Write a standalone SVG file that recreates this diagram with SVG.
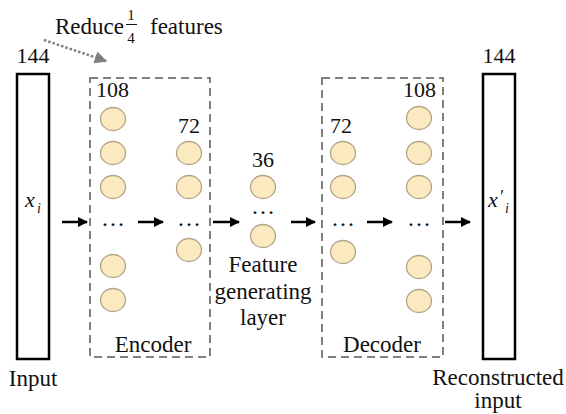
<svg xmlns="http://www.w3.org/2000/svg" width="566" height="414" viewBox="0 0 566 414" font-family="'Liberation Serif', 'Times New Roman', 'DejaVu Serif', serif">
<style>
text{font-family:'Liberation Serif','Times New Roman','DejaVu Serif',serif;fill:#111}
.lbl{font-size:23px}
.num{font-size:22px}
.io{fill:#fff;stroke:#000;stroke-width:2.5}
.box{fill:none;stroke:#808080;stroke-width:2;stroke-dasharray:8 5}
.n{fill:#fbe9bf;stroke:#b3a386;stroke-width:1.3}
.arr{stroke:#000;stroke-width:2.5;fill:none;marker-end:url(#ah)}
.dots{font-size:24px}
</style>
<defs>
<marker id="ah" viewBox="0 0 10 10" refX="9" refY="5" markerWidth="4" markerHeight="4" markerUnits="strokeWidth" orient="auto"><path d="M0,0L10,5L0,10z" fill="#000"/></marker>
<marker id="ahg" viewBox="0 0 10 10" refX="9" refY="5" markerWidth="5" markerHeight="5" markerUnits="strokeWidth" orient="auto"><path d="M0,0L10,5L0,10z" fill="#7f7f7f"/></marker>
</defs>
<g id="annotation">
<text class="lbl" x="55" y="34" font-size="22">Reduce</text>
<text x="131" y="20" font-size="15" text-anchor="middle">1</text>
<line x1="126" y1="24.5" x2="137" y2="24.5" stroke="#111" stroke-width="1"/>
<text x="131" y="43" font-size="15" text-anchor="middle">4</text>
<text class="lbl" x="150" y="34">features</text>
</g>
<g id="input">
<text class="num" x="33" y="63" text-anchor="middle">144</text>
<rect class="io" x="17" y="74" width="32" height="285"/>
<text x="25" y="207" font-size="22" font-style="italic">x</text>
<text x="37" y="213" font-size="14" font-style="italic">i</text>
<text class="lbl" x="33" y="386" text-anchor="middle">Input</text>
</g>
<g id="encoder">
<rect class="box" x="90" y="78" width="120" height="279"/>
<text class="num" x="96" y="97">108</text>
<text class="num" x="178" y="133">72</text>
<ellipse class="n" cx="113" cy="119" rx="12.5" ry="11.5"/>
<ellipse class="n" cx="113" cy="153" rx="12.5" ry="11.5"/>
<ellipse class="n" cx="113" cy="187" rx="12.5" ry="11.5"/>
<text class="dots" x="113" y="226" text-anchor="middle">…</text>
<ellipse class="n" cx="113" cy="266" rx="12.5" ry="11.5"/>
<ellipse class="n" cx="113" cy="300" rx="12.5" ry="11.5"/>
<ellipse class="n" cx="189" cy="153" rx="12.5" ry="11.5"/>
<ellipse class="n" cx="189" cy="187" rx="12.5" ry="11.5"/>
<text class="dots" x="189" y="226" text-anchor="middle">…</text>
<ellipse class="n" cx="189" cy="250" rx="12.5" ry="11.5"/>
<text class="lbl" x="153" y="352" text-anchor="middle" font-size="24">Encoder</text>
</g>
<g id="feature-layer">
<text class="num" x="263" y="167" text-anchor="middle">36</text>
<ellipse class="n" cx="263" cy="187" rx="12.5" ry="11.5"/>
<text class="dots" x="263" y="214" text-anchor="middle">…</text>
<ellipse class="n" cx="263" cy="236" rx="12.5" ry="11.5"/>
<text class="lbl" x="263" y="272" text-anchor="middle" font-size="24">Feature</text>
<text class="lbl" x="263" y="299" text-anchor="middle" font-size="24">generating</text>
<text class="lbl" x="263" y="325" text-anchor="middle" font-size="24">layer</text>
</g>
<g id="decoder">
<rect class="box" x="322" y="78" width="121" height="279"/>
<text class="num" x="330" y="133">72</text>
<text class="num" x="403" y="97">108</text>
<ellipse class="n" cx="343" cy="153" rx="12.5" ry="11.5"/>
<ellipse class="n" cx="343" cy="187" rx="12.5" ry="11.5"/>
<text class="dots" x="343" y="226" text-anchor="middle">…</text>
<ellipse class="n" cx="343" cy="252" rx="12.5" ry="11.5"/>
<ellipse class="n" cx="419" cy="118" rx="12.5" ry="11.5"/>
<ellipse class="n" cx="419" cy="153" rx="12.5" ry="11.5"/>
<ellipse class="n" cx="419" cy="187" rx="12.5" ry="11.5"/>
<text class="dots" x="419" y="226" text-anchor="middle">…</text>
<ellipse class="n" cx="419" cy="267" rx="12.5" ry="11.5"/>
<ellipse class="n" cx="419" cy="301" rx="12.5" ry="11.5"/>
<text class="lbl" x="382" y="352" text-anchor="middle" font-size="24">Decoder</text>
</g>
<g id="output">
<text class="num" x="499" y="63" text-anchor="middle">144</text>
<rect class="io" x="483" y="74" width="32" height="285"/>
<text x="488" y="207" font-size="22" font-style="italic">x</text>
<text x="499" y="203" font-size="18" font-style="italic">′</text>
<text x="505" y="213" font-size="14" font-style="italic">i</text>
<text class="lbl" x="498" y="385" text-anchor="middle">Reconstructed</text>
<text class="lbl" x="498" y="408" text-anchor="middle">input</text>
</g>
<g id="connectors">
<line class="arr" x1="62" y1="222" x2="87" y2="222"/>
<line class="arr" x1="138" y1="222" x2="163" y2="222"/>
<line class="arr" x1="213" y1="222" x2="239" y2="222"/>
<line class="arr" x1="291" y1="222" x2="315" y2="222"/>
<line class="arr" x1="367" y1="222" x2="392" y2="222"/>
<line class="arr" x1="445" y1="222" x2="470" y2="222"/>
<line x1="44" y1="40" x2="106" y2="61" stroke="#7f7f7f" stroke-width="2.5" stroke-dasharray="2.5 2" marker-end="url(#ahg)"/>
</g>
</svg>
